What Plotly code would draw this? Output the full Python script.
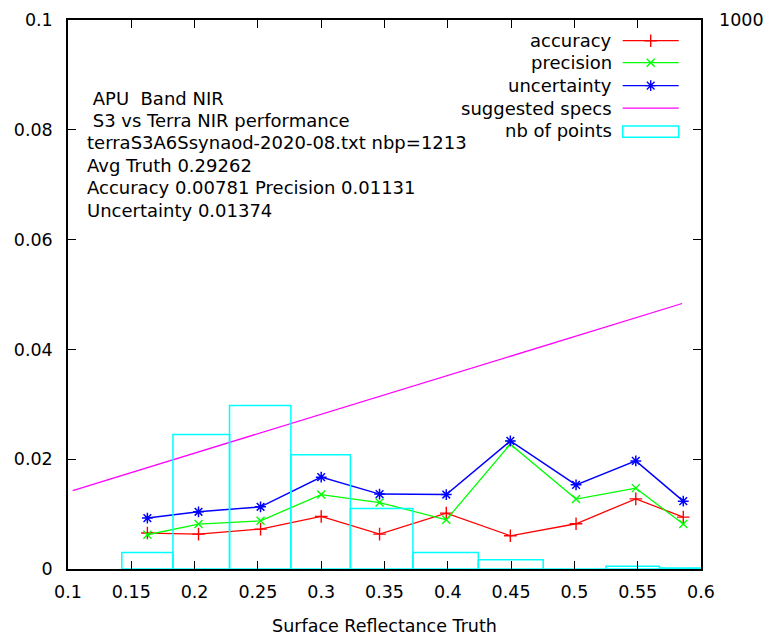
import plotly.graph_objects as go

# ---------------- data ----------------
truth = [0.1627, 0.2031, 0.2521, 0.3000, 0.3461, 0.3988, 0.4494, 0.5013, 0.5485, 0.5860]
accuracy = [0.00655, 0.00636, 0.00727, 0.00957, 0.00636, 0.01018, 0.00605, 0.00824, 0.01278, 0.00945]
precision = [0.00624, 0.00818, 0.00878, 0.01356, 0.01211, 0.00896, 0.02273, 0.01273, 0.01473, 0.00818]
uncertainty = [0.00927, 0.01042, 0.01133, 0.01673, 0.01364, 0.01356, 0.02333, 0.01533, 0.01969, 0.01236]
nb_points = [30, 245, 298, 208, 110, 30, 17, 0, 5, 2]
spec_x = [0.1037, 0.5851]
spec_y = [0.01429, 0.04836]

x_ticks = [0.1, 0.15, 0.2, 0.25, 0.3, 0.35, 0.4, 0.45, 0.5, 0.55, 0.6]
x_tick_labels = ["0.1", "0.15", "0.2", "0.25", "0.3", "0.35", "0.4", "0.45", "0.5", "0.55", "0.6"]
y_ticks = [0, 0.02, 0.04, 0.06, 0.08, 0.1]
y_tick_labels = ["0", "0.02", "0.04", "0.06", "0.08", "0.1"]
y2_ticks = [1000]
y2_tick_labels = ["1000"]

info_lines = [
    "\u00a0APU\u00a0\u00a0Band NIR",
    "\u00a0S3 vs Terra NIR performance",
    "terraS3A6Ssynaod-2020-08.txt nbp=1213",
    "Avg Truth 0.29262",
    "Accuracy 0.00781 Precision 0.01131",
    "Uncertainty 0.01374",
]
legend_names = ["accuracy", "precision", "uncertainty", "suggested specs", "nb of points"]

# ---------------- styles ----------------
RED, GREEN, BLUE, MAG, CYAN = "#ff0000", "#00ff00", "#0000ff", "#ff00ff", "#00ffff"
FONT = "DejaVu Sans"

# box edges: midpoints between consecutive truth values (gnuplot boxes autowidth)
edges = [truth[0] - (truth[1] - truth[0]) / 2]
edges += [(a + b) / 2 for a, b in zip(truth[:-1], truth[1:])]
edges += [truth[-1] + (truth[-1] - truth[-2]) / 2]
centers = [(a + b) / 2 for a, b in zip(edges[:-1], edges[1:])]
widths = [b - a for a, b in zip(edges[:-1], edges[1:])]

fig = go.Figure()

fig.add_trace(go.Scatter(x=truth, y=accuracy, mode="lines+markers", name="accuracy",
                         line=dict(color=RED, width=1.3),
                         marker=dict(symbol="cross-thin", size=9, line=dict(color=RED, width=1.4))))
fig.add_trace(go.Scatter(x=truth, y=precision, mode="lines+markers", name="precision",
                         line=dict(color=GREEN, width=1.3),
                         marker=dict(symbol="x-thin", size=8, line=dict(color=GREEN, width=1.4))))
fig.add_trace(go.Scatter(x=truth, y=uncertainty, mode="lines+markers", name="uncertainty",
                         line=dict(color=BLUE, width=1.5),
                         marker=dict(symbol="asterisk", size=9, line=dict(color=BLUE, width=1.5))))
fig.add_trace(go.Scatter(x=spec_x, y=spec_y, mode="lines", name="suggested specs",
                         line=dict(color=MAG, width=1.3)))
fig.add_trace(go.Bar(x=centers, y=nb_points, width=widths, yaxis="y2", name="nb of points",
                     marker=dict(color="rgba(0,0,0,0)", line=dict(color=CYAN, width=1.5))))

# ---------------- custom gnuplot-like key ----------------
key_text_x = 0.863
key_x0, key_x1 = 0.8763, 0.9648
key_xm = (key_x0 + key_x1) / 2
key_rows = [0.9623, 0.9223, 0.8804, 0.8393, 0.7993]
key_colors = [RED, GREEN, BLUE, MAG, CYAN]

annotations = []
shapes = []
for name, yy, col in zip(legend_names, key_rows, key_colors):
    annotations.append(dict(x=key_text_x, y=yy, xref="paper", yref="paper", text=name,
                            showarrow=False, xanchor="right", yanchor="middle",
                            font=dict(family=FONT, size=18, color="#000000")))
for yy, col in zip(key_rows[:4], key_colors[:4]):
    shapes.append(dict(type="line", xref="paper", yref="paper", x0=key_x0, x1=key_x1,
                       y0=yy, y1=yy, line=dict(color=col, width=1.3)))
shapes.append(dict(type="rect", xref="paper", yref="paper", x0=key_x0, x1=key_x1,
                   y0=0.7866, y1=0.8071, line=dict(color=CYAN, width=1.5)))

key_syms = ["cross-thin", "x-thin", "asterisk"]
key_sizes = [9, 8, 9]
for yy, col, sym, sz in zip(key_rows[:3], key_colors[:3], key_syms, key_sizes):
    fig.add_trace(go.Scatter(x=[key_xm], y=[yy], xaxis="x2", yaxis="y3", mode="markers",
                             showlegend=False, hoverinfo="skip",
                             marker=dict(symbol=sym, size=sz, color=col, line=dict(color=col, width=1.4))))

# ---------------- info text ----------------
info_y_px = [98.7, 120.7, 142.7, 165.3, 188.0, 210.3]
for line, ypx in zip(info_lines, info_y_px):
    annotations.append(dict(x=(85 - 68) / 633, y=(569.5 - ypx) / 549.5, xref="paper", yref="paper",
                            text=line, showarrow=False, xanchor="left", yanchor="middle",
                            font=dict(family=FONT, size=18, color="#000000")))

axis_common = dict(showline=True, linecolor="#000000", linewidth=1.5, ticks="inside",
                   ticklen=8, tickwidth=1.2, tickcolor="#000000", showgrid=False, zeroline=False,
                   automargin=False,
                   tickfont=dict(family=FONT, size=17.5, color="#000000"))

fig.update_layout(
    width=767, height=638,
    margin=dict(l=68, r=66, t=20, b=68.5, autoexpand=False),
    paper_bgcolor="#ffffff", plot_bgcolor="#ffffff",
    showlegend=False,
    barmode="overlay",
    xaxis=dict(range=[0.1, 0.6], tickvals=x_ticks, ticktext=x_tick_labels, mirror="ticks",
               title=dict(text="Surface Reflectance Truth", standoff=19,
                          font=dict(family=FONT, size=17.5, color="#000000")),
               ticklabelstandoff=6, **axis_common),
    yaxis=dict(range=[0, 0.1], tickvals=y_ticks, ticktext=y_tick_labels, mirror="ticks",
               ticklabelstandoff=10, **axis_common),
    yaxis2=dict(range=[0, 1000], overlaying="y", side="right", tickvals=y2_ticks,
                ticktext=y2_tick_labels, showline=False, ticks="", showgrid=False, zeroline=False,
                ticklabelstandoff=17, automargin=False,
                tickfont=dict(family=FONT, size=17.5, color="#000000")),
    xaxis2=dict(range=[0, 1], overlaying="x", visible=False),
    yaxis3=dict(range=[0, 1], overlaying="y", visible=False),
    annotations=annotations,
    shapes=shapes,
    font=dict(family=FONT, color="#000000"),
)

# remove the default 8px page margin so the figure fills the 767x638 window exactly
fig.write_html("out.html", config={"displayModeBar": False},
               post_script="document.body.style.margin='0';document.body.style.overflow='hidden';")
